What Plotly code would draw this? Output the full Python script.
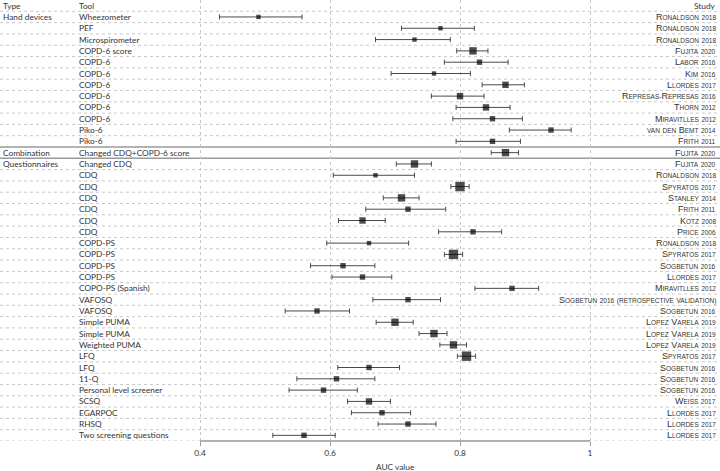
import plotly.graph_objects as go

# ---------------- data ----------------
group_labels = ["Hand devices", "Combination", "Questionnaires"]
group_start_rows = [0, 12, 13]

tools = [
    "Wheezometer", "PEF", "Microspirometer", "COPD-6 score", "COPD-6", "COPD-6",
    "COPD-6", "COPD-6", "COPD-6", "COPD-6", "Piko-6", "Piko-6",
    "Changed CDQ+COPD-6 score",
    "Changed CDQ", "CDQ", "CDQ", "CDQ", "CDQ", "CDQ", "CDQ",
    "COPD-PS", "COPD-PS", "COPD-PS", "COPD-PS", "COPO-PS (Spanish)",
    "VAFOSQ", "VAFOSQ", "Simple PUMA", "Simple PUMA", "Weighted PUMA",
    "LFQ", "LFQ", "11-Q", "Personal level screener", "SCSQ", "EGARPOC",
    "RHSQ", "Two screening questions",
]

studies = [
    "Ronaldson 2018", "Ronaldson 2018", "Ronaldson 2018", "Fujita 2020",
    "Labor 2016", "Kim 2016", "Llordes 2017", "Represas-Represas 2016",
    "Thorn 2012", "Miravitlles 2012", "van den Bemt 2014", "Frith 2011",
    "Fujita 2020",
    "Fujita 2020", "Ronaldson 2018", "Spyratos 2017", "Stanley 2014",
    "Frith 2011", "Kotz 2008", "Price 2006",
    "Ronaldson 2018", "Spyratos 2017", "Sogbetun 2016", "Llordes 2017",
    "Miravitlles 2012",
    "Sogbetun 2016 (retrospective validation)", "Sogbetun 2016",
    "Lopez Varela 2019", "Lopez Varela 2019", "Lopez Varela 2019",
    "Spyratos 2017", "Sogbetun 2016", "Sogbetun 2016", "Sogbetun 2016",
    "Weiss 2017", "Llordes 2017", "Llordes 2017", "Llordes 2017",
]

auc = [
    0.49, 0.77, 0.73, 0.82, 0.83, 0.76, 0.87, 0.80, 0.84, 0.85, 0.94, 0.85,
    0.87,
    0.73, 0.67, 0.80, 0.71, 0.72, 0.65, 0.82,
    0.66, 0.79, 0.62, 0.65, 0.88,
    0.72, 0.58, 0.70, 0.76, 0.79,
    0.81, 0.66, 0.61, 0.59, 0.66, 0.68, 0.72, 0.56,
]

auc_lo = [
    0.43, 0.71, 0.67, 0.795, 0.776, 0.694, 0.834, 0.756, 0.794, 0.789, 0.876, 0.794,
    0.848,
    0.702, 0.605, 0.786, 0.682, 0.655, 0.613, 0.767,
    0.595, 0.776, 0.570, 0.603, 0.823,
    0.666, 0.531, 0.671, 0.737, 0.769,
    0.796, 0.612, 0.549, 0.537, 0.627, 0.633, 0.674, 0.512,
]

auc_hi = [
    0.557, 0.822, 0.785, 0.843, 0.874, 0.816, 0.899, 0.837, 0.877, 0.896, 0.971, 0.893,
    0.890,
    0.756, 0.730, 0.814, 0.737, 0.778, 0.685, 0.864,
    0.721, 0.804, 0.669, 0.695, 0.921,
    0.770, 0.630, 0.728, 0.780, 0.810,
    0.824, 0.707, 0.669, 0.642, 0.693, 0.724, 0.763, 0.608,
]

# relative study weight (drives the square size)
weight = [
    1, 1, 1, 4, 2, 1, 3, 3, 3, 2, 2, 2,
    4,
    4, 1, 6, 4, 2, 3, 2,
    1, 6, 2, 2, 2,
    2, 2, 4, 4, 4,
    6, 2, 2, 2, 3, 2, 2, 2,
]

x_ticks = [0.4, 0.6, 0.8, 1.0]
x_tick_text = ["0.4", "0.6", "0.8", "1"]

# ---------------- styling helpers ----------------
FONT = "Lato, sans-serif"
STUDY_FONT = "Liberation Sans, Arial, sans-serif"
TEXT_COL = "#333333"
GRID_COL = "#c8c8c8"
FS = 8.3
n = len(tools)
rows = list(range(n))


def small_caps(s, big=9, small=6.5):
    out = []
    for ch in s:
        if ch.isupper():
            out.append(f'<span style="font-size:{big}px">{ch}</span>')
        elif ch == " ":
            out.append(" ")
        else:
            out.append(f'<span style="font-size:{small}px">{ch.upper()}</span>')
    return "".join(out)


def to_size(w):
    return 3.4 + 1.0 * w


fig = go.Figure()

fig.add_trace(go.Scatter(
    x=auc,
    y=rows,
    mode="markers",
    marker=dict(symbol="square", color="black", size=[to_size(w) for w in weight],
                line=dict(width=0)),
    error_x=dict(
        type="data", symmetric=False,
        array=[h - a for h, a in zip(auc_hi, auc)],
        arrayminus=[a - l for a, l in zip(auc, auc_lo)],
        color="#4a4a4a", thickness=1, width=2.5,
    ),
    showlegend=False,
    hoverinfo="skip",
))

annotations = []
# header
annotations.append(dict(x=1 / 720, y=-1, xref="paper", yref="y", text="Type",
                        showarrow=False, xanchor="left", font=dict(size=FS, color=TEXT_COL)))
annotations.append(dict(x=77 / 720, y=-1, xref="paper", yref="y", text="Tool",
                        showarrow=False, xanchor="left", font=dict(size=FS, color=TEXT_COL)))
annotations.append(dict(x=718 / 720, y=-1, xref="paper", yref="y", text="Study",
                        showarrow=False, xanchor="right", font=dict(size=FS, color=TEXT_COL)))

for lab, r in zip(group_labels, group_start_rows):
    annotations.append(dict(x=1 / 720, y=r, xref="paper", yref="y", text=lab,
                            showarrow=False, xanchor="left",
                            font=dict(size=FS, color=TEXT_COL)))

for r, (t, s) in enumerate(zip(tools, studies)):
    annotations.append(dict(x=77 / 720, y=r, xref="paper", yref="y", text=t,
                            showarrow=False, xanchor="left",
                            font=dict(size=FS, color=TEXT_COL)))
    annotations.append(dict(x=718 / 720, y=r, xref="paper", yref="y", text=small_caps(s),
                            showarrow=False, xanchor="right",
                            font=dict(size=9, family=STUDY_FONT, color=TEXT_COL)))

annotations.append(dict(x=0.7, y=0, xref="x", yref="paper", text="AUC value",
                        showarrow=False, yanchor="top", yshift=-19,
                        font=dict(size=FS, color=TEXT_COL)))

shapes = []
solid_rows = {11.5, 12.5}
for k in range(-1, n):
    yb = k + 0.5
    if yb in solid_rows:
        shapes.append(dict(type="line", xref="paper", yref="y", x0=0, x1=1, y0=yb, y1=yb,
                           line=dict(color="#9a9a9a", width=1.5), layer="below"))
    else:
        shapes.append(dict(type="line", xref="paper", yref="y", x0=0, x1=1, y0=yb, y1=yb,
                           line=dict(color=GRID_COL, width=1, dash="dot"), layer="below"))
# axis line from 0.4 to 1
shapes.append(dict(type="line", xref="x", yref="paper", x0=x_ticks[0], x1=x_ticks[-1],
                   y0=0, y1=0, line=dict(color="#999999", width=1.5)))

x_left = 0.4 - 200 / 650
x_right = 0.4 + 520 / 650

fig.update_layout(
    width=720, height=471, autosize=False,
    margin=dict(l=0, r=0, t=0, b=30),
    paper_bgcolor="white", plot_bgcolor="white",
    font=dict(family=FONT, color=TEXT_COL, size=FS),
    hovermode=False,
    xaxis=dict(
        range=[x_left, x_right],
        tickvals=x_ticks, ticktext=x_tick_text,
        showgrid=True, gridcolor=GRID_COL, griddash="dot", gridwidth=1,
        zeroline=False, showline=False,
        ticks="outside", ticklen=4, tickcolor="#999999", tickwidth=1,
        tickfont=dict(size=FS, color=TEXT_COL),
    ),
    yaxis=dict(
        range=[n - 0.5, -1.5],
        showgrid=False, zeroline=False, showline=False,
        showticklabels=False, ticks="",
    ),
    annotations=annotations,
    shapes=shapes,
)

fig.write_html("out.html", config={"displayModeBar": False},
               post_script="document.body.style.margin='0';")
